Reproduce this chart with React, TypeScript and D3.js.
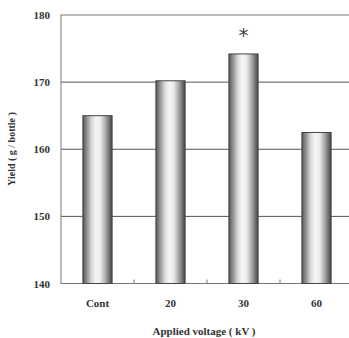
import React from "react";
import * as d3 from "d3";

const categories = ["Cont", "20", "30", "60"];
const yields = [165.0, 170.2, 174.2, 162.5];
const yTicks = [140, 150, 160, 170, 180];
const marks = ["", "", "*", ""];

export default function App() {
  const W = 349, H = 338;
  const left = 61, right = 353, top = 15, bottom = 283.5;
  const x = d3.scaleBand<string>().domain(categories).range([left, right]).paddingInner(0.6).paddingOuter(0.3);
  const band = d3.scaleBand<string>().domain(categories).range([left, right]);
  const y = d3.scaleLinear().domain([140, 180]).range([bottom, top]);
  const font = "'Liberation Serif', 'Times New Roman', serif";
  const txt = "#333";
  return (
    <div style={{ position: "absolute", left: 0, top: 0 }}>
      <svg width={W} height={H} style={{ display: "block", background: "#fff" }}>
        <defs>
          <linearGradient id="cyl" x1="0" x2="1" y1="0" y2="0">
            <stop offset="0" stopColor="#555" />
            <stop offset="0.12" stopColor="#8a8a8a" />
            <stop offset="0.3" stopColor="#d8d8d8" />
            <stop offset="0.45" stopColor="#f6f6f6" />
            <stop offset="0.6" stopColor="#ececec" />
            <stop offset="0.78" stopColor="#a8a8a8" />
            <stop offset="0.92" stopColor="#6a6a6a" />
            <stop offset="1" stopColor="#444" />
          </linearGradient>
        </defs>
        {yTicks.slice(1, -1).map((t) => (
          <line key={t} x1={left} x2={right} y1={y(t)} y2={y(t)} stroke="#555" strokeWidth={1} />
        ))}
        <rect x={left} y={top} width={right - left} height={bottom - top} fill="none" stroke="#777" strokeWidth={1} />
        {categories.slice(1).map((c) => (
          <line key={c} x1={band(c)!} x2={band(c)!} y1={bottom} y2={bottom - 4} stroke="#777" />
        ))}
        {categories.map((c, i) => (
          <g key={c}>
            <rect x={x(c)!} y={y(yields[i])} width={x.bandwidth()} height={bottom - y(yields[i])} fill="url(#cyl)" stroke="#444" strokeWidth={1} />
            {marks[i] && (
              <text x={x(c)! + x.bandwidth() / 2} y={y(yields[i]) - 12} textAnchor="middle" fontFamily="'DejaVu Sans', sans-serif" fontSize={20} fill="#444">{marks[i]}</text>
            )}
            <text x={x(c)! + x.bandwidth() / 2} y={307} textAnchor="middle" fontFamily={font} fontWeight="bold" fontSize={11} fill={txt}>{c}</text>
          </g>
        ))}
        {yTicks.map((t) => (
          <text key={t} x={50} y={y(t) + 4} textAnchor="end" fontFamily={font} fontWeight="bold" fontSize={11} fill={txt}>{t}</text>
        ))}
        <text x={204} y={335} textAnchor="middle" fontFamily={font} fontWeight="bold" fontSize={11} fill={txt}>Applied voltage ( kV )</text>
        <text transform={`translate(15,149) rotate(-90)`} textAnchor="middle" fontFamily={font} fontWeight="bold" fontSize={10} fill={txt}>Yield ( g / bottle )</text>
      </svg>
    </div>
  );
}
